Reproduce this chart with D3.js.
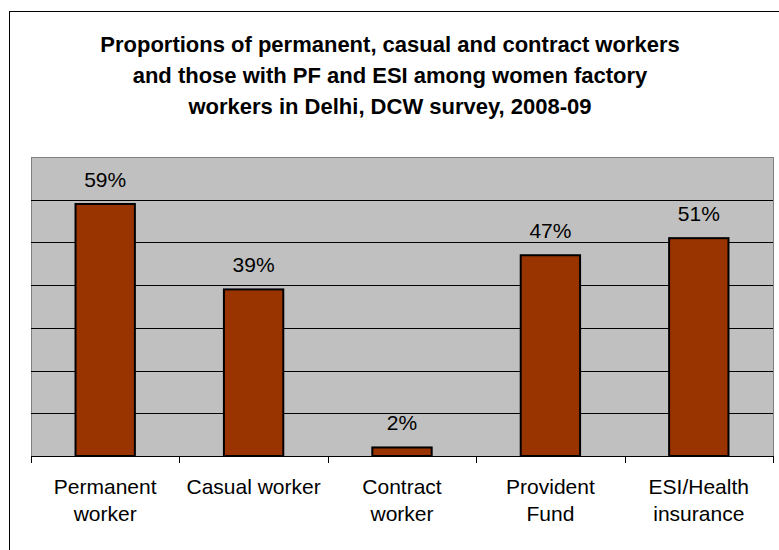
<!DOCTYPE html>
<html>
<head>
<meta charset="utf-8">
<script src="https://cdn.jsdelivr.net/npm/d3@7"></script>
<style>
  html, body { margin: 0; padding: 0; background: #fff; }
  svg { display: block; font-family: "Liberation Sans", Arial, sans-serif; }
</style>
</head>
<body>
<svg id="chart" width="779" height="550"></svg>
<script>
// Share of women factory workers, by category (%)
const categories = [
  ["Permanent", "worker"],
  ["Casual worker"],
  ["Contract", "worker"],
  ["Provident", "Fund"],
  ["ESI/Health", "insurance"]
];
const values = [59, 39, 2, 47, 51];
const titleLines = [
  "Proportions of permanent, casual and contract workers",
  "and those with PF and ESI among women factory",
  "workers in Delhi, DCW survey, 2008-09"
];
const gridTicks = [10, 20, 30, 40, 50, 60, 70];

const svg = d3.select("#chart");
const plot = { left: 31, right: 773, top: 157, bottom: 456 };

// Outer chart frame
svg.append("rect")
  .attr("x", 9.5).attr("y", 11.5)
  .attr("width", 800).attr("height", 600)
  .attr("fill", "#fff").attr("stroke", "#000").attr("stroke-width", 1);

// Title
svg.append("text")
  .attr("text-anchor", "middle")
  .attr("font-weight", "bold")
  .attr("font-size", 22)
  .attr("fill", "#000")
  .selectAll("tspan")
  .data(titleLines)
  .join("tspan")
  .attr("x", 390)
  .attr("y", (d, i) => 52 + i * 31)
  .text(d => d);

const x = d3.scaleBand()
  .domain(d3.range(categories.length))
  .range([plot.left, plot.right])
  .paddingInner(0.6)
  .paddingOuter(0.3);

const y = d3.scaleLinear().domain([0, 70]).range([plot.bottom, plot.top]);

// Plot background
svg.append("rect")
  .attr("x", plot.left + 0.5).attr("y", plot.top + 0.5)
  .attr("width", plot.right - plot.left).attr("height", plot.bottom - plot.top)
  .attr("fill", "#c0c0c0").attr("stroke", "#808080").attr("stroke-width", 1);

// Horizontal gridlines
svg.append("g")
  .selectAll("line")
  .data(gridTicks.filter(t => t < 70))
  .join("line")
  .attr("x1", plot.left).attr("x2", plot.right)
  .attr("y1", d => Math.round(y(d)) + 0.5).attr("y2", d => Math.round(y(d)) + 0.5)
  .attr("stroke", "#000").attr("stroke-width", 1);

// Bars
svg.append("g")
  .selectAll("rect")
  .data(values)
  .join("rect")
  .attr("x", (d, i) => x(i))
  .attr("y", d => y(d))
  .attr("width", x.bandwidth())
  .attr("height", d => y(0) - y(d))
  .attr("fill", "#993300")
  .attr("stroke", "#000").attr("stroke-width", 2);

// Value labels
svg.append("g")
  .selectAll("text")
  .data(values)
  .join("text")
  .attr("x", (d, i) => x(i) + x.bandwidth() / 2)
  .attr("y", d => y(d) - 17)
  .attr("text-anchor", "middle")
  .attr("font-size", 21)
  .attr("fill", "#000")
  .text(d => d + "%");

// Category axis: baseline and tick marks between categories
const step = (plot.right - plot.left) / categories.length;
svg.append("line")
  .attr("x1", plot.left).attr("x2", plot.right + 1)
  .attr("y1", plot.bottom + 0.5).attr("y2", plot.bottom + 0.5)
  .attr("stroke", "#000").attr("stroke-width", 1);
svg.append("g")
  .selectAll("line")
  .data(d3.range(categories.length + 1))
  .join("line")
  .attr("x1", i => Math.round(plot.left + i * step) + 0.5)
  .attr("x2", i => Math.round(plot.left + i * step) + 0.5)
  .attr("y1", plot.bottom).attr("y2", plot.bottom + 7)
  .attr("stroke", "#000").attr("stroke-width", 1);

// Category labels
svg.append("g")
  .selectAll("text")
  .data(categories)
  .join("text")
  .attr("text-anchor", "middle")
  .attr("font-size", 21)
  .attr("fill", "#000")
  .each(function(lines, i) {
    d3.select(this).selectAll("tspan")
      .data(lines)
      .join("tspan")
      .attr("x", x(i) + x.bandwidth() / 2)
      .attr("y", (d, j) => 494 + j * 27)
      .text(d => d);
  });
</script>
</body>
</html>
